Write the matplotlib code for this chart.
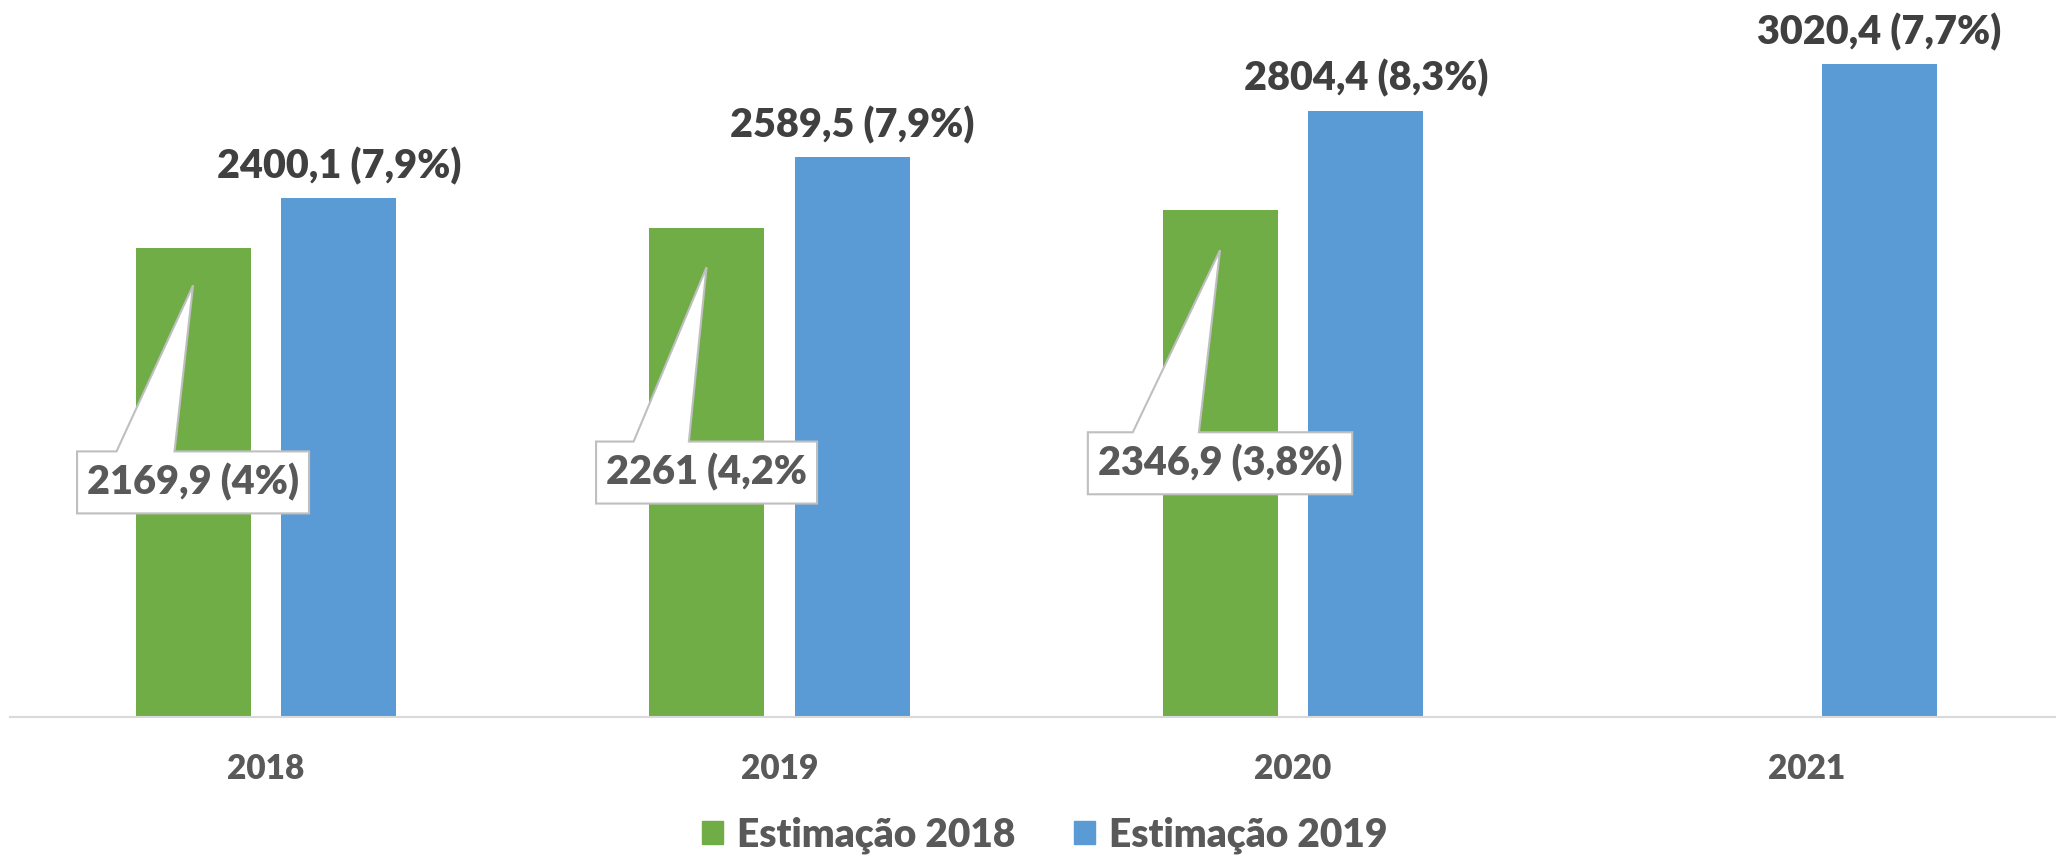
import matplotlib
matplotlib.use('Agg')
import matplotlib.pyplot as plt
from matplotlib.patches import Patch, PathPatch
from matplotlib.path import Path
from matplotlib.transforms import IdentityTransform
import numpy as np

years = ['2018', '2019', '2020', '2021']
est2018 = [2169.9, 2261.0, 2346.9]          # no 2021 value
est2019 = [2400.1, 2589.5, 2804.4, 3020.4]
labels2018 = ['2169,9 (4%)', '2261 (4,2%', '2346,9 (3,8%)']
labels2019 = ['2400,1 (7,9%)', '2589,5 (7,9%)', '2804,4 (8,3%)', '3020,4 (7,7%)']
series_names = ['Estimação 2018', 'Estimação 2019']

GREEN = '#70AD47'
BLUE = '#5B9BD5'
WEIGHT = 'heavy'

plt.rcParams['font.family'] = ['Lato', 'DejaVu Sans']

fig = plt.figure(figsize=(20.56, 8.59), dpi=100)
ax = fig.add_axes([10 / 2056, 142 / 859, 2046 / 2056, 717 / 859])
ax.set_xlim(-0.4985, 3.486)
ax.set_ylim(0, 3316)
ax.set_autoscale_on(False)

x = np.arange(len(years))
w = 0.224
off = 0.142
ax.bar(x[:len(est2018)] - off, est2018, w, color=GREEN, zorder=2)
ax.bar(x + off, est2019, w, color=BLUE, zorder=2)

LABEL_SIZE = 28.5

# labels for Estimação 2019
for xi, v, lbl in zip(x, est2019, labels2019):
    ax.annotate(lbl, (xi + off, v), xytext=(0, 23), textcoords='offset points',
                ha='center', va='center', fontsize=LABEL_SIZE, fontweight=WEIGHT,
                color='#404040', zorder=7)

# axes styling
for s in ['top', 'right', 'left']:
    ax.spines[s].set_visible(False)
ax.spines['bottom'].set_color('#D9D9D9')
ax.spines['bottom'].set_linewidth(1.5)
ax.set_yticks([])
ax.set_xticks(x, years)
ax.tick_params(axis='x', length=0, pad=26, labelsize=24, labelcolor='#595959')
for t in ax.get_xticklabels():
    t.set_fontweight(WEIGHT)

# callout labels for Estimação 2018
fig.canvas.draw()
renderer = fig.canvas.get_renderer()
for xi, v, lbl in zip(x, est2018, labels2018):
    t = ax.text(xi - off, v / 2, lbl, ha='center', va='center', fontsize=LABEL_SIZE,
                fontweight=WEIGHT, color='#595959', zorder=8)
    bb = t.get_window_extent(renderer)
    cx, cy = ax.transData.transform((xi - off, v / 2))
    tx, ty = ax.transData.transform((xi - off, 0.92 * v))
    bw = bb.width + 20
    bh = 62
    L, R = cx - bw / 2, cx + bw / 2
    B, T = cy - bh / 2, cy + bh / 2
    verts = [(L, B), (R, B), (R, T), (L + 0.42 * bw, T), (tx, ty),
             (L + 0.17 * bw, T), (L, T), (L, B)]
    codes = [Path.MOVETO] + [Path.LINETO] * 6 + [Path.CLOSEPOLY]
    patch = PathPatch(Path(verts, codes), facecolor='white', edgecolor='#BFBFBF',
                      linewidth=1.5, transform=IdentityTransform(), zorder=6,
                      clip_on=False)
    ax.add_patch(patch)

handles = [Patch(color=GREEN), Patch(color=BLUE)]
fig.legend(handles=handles, labels=series_names, loc='center',
           bbox_to_anchor=(0.508, 1 - 835 / 859), ncol=2, frameon=False,
           prop={'weight': WEIGHT, 'size': 28}, labelcolor='#595959',
           handlelength=0.55, handleheight=0.55, handletextpad=0.35,
           columnspacing=1.5)

fig.savefig('out.png', dpi=100)
